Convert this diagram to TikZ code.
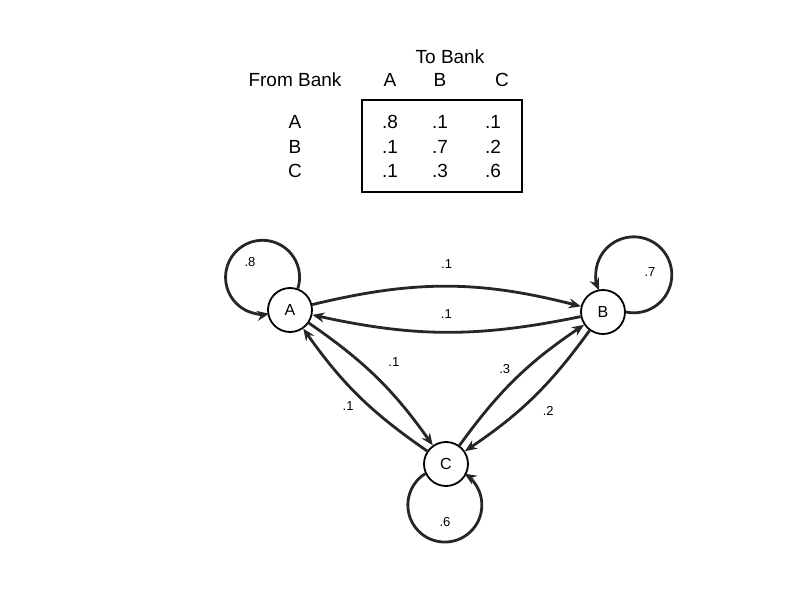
\documentclass[tikz,border=0pt]{standalone}
\usepackage{fontspec}
\setmainfont{Liberation Sans}
\usetikzlibrary{arrows.meta}
\begin{document}
\begin{tikzpicture}[x=0.5pt,y=-0.5pt,font=\fontsize{9.5}{11}\selectfont,
  bank/.style={circle,draw,line width=0.9pt,minimum size=22pt,inner sep=0pt,fill=white,font=\fontsize{8}{9}\selectfont},
  flow/.style={-{Stealth[length=6pt,width=5pt]},line width=1.4pt,draw=black!85},
  prob/.style={font=\fontsize{6.5}{7}\selectfont,inner sep=2pt}]
\useasboundingbox (0,0) rectangle (800,600);
% transition table
\node (tobank) at (450,57) {To Bank}; \node (frombank) at (295,80) {From Bank};
\node (toA) at (390,80) {A}; \node (toB) at (440,80) {B}; \node (toC) at (502,80) {C};
\node (fromA) at (295,122) {A}; \node (fromB) at (295,147) {B}; \node (fromC) at (295,171) {C};
\node (pAA) at (390,122) {.8}; \node (pAB) at (440,122) {.1}; \node (pAC) at (493,122) {.1};
\node (pBA) at (390,147) {.1}; \node (pBB) at (440,147) {.7}; \node (pBC) at (493,147) {.2};
\node (pCA) at (390,171) {.1}; \node (pCB) at (440,171) {.3}; \node (pCC) at (493,171) {.6};
\draw [line width=0.7pt] (362,100) rectangle (522,192);
% chain
\node [bank] (A) at (290,310) {A}; \node [bank] (B) at (603,312) {B}; \node [bank] (C) at (446,464) {C};
\draw [flow] (A) to [bend left=14] node [prob,above=6pt] {.1} (B);
\draw [flow] (B) to [bend left=12] node [prob,above=4pt] {.1} (A);
\draw [flow] (A) to [bend left=10] node [prob,auto,inner sep=5pt] {.1} (C);
\draw [flow] (C) to [bend left=10] node [prob,auto] {.1} (A);
\draw [flow] (C) to [bend left=10] node [prob,auto] {.3} (B);
\draw [flow] (B) to [bend left=10] node [prob,auto,inner sep=4pt] {.2} (C);
% loops
\draw [flow] (A.70) arc (17.6:-280:37); \draw [flow] (B.0) arc (102:-204:38); \draw [flow] (C.205) arc (238:-58:37);
\node [prob] (loopA) at (250,262) {.8}; \node [prob] (loopB) at (650,272) {.7}; \node [prob] (loopC) at (445,522) {.6};
\end{tikzpicture}
\end{document}
